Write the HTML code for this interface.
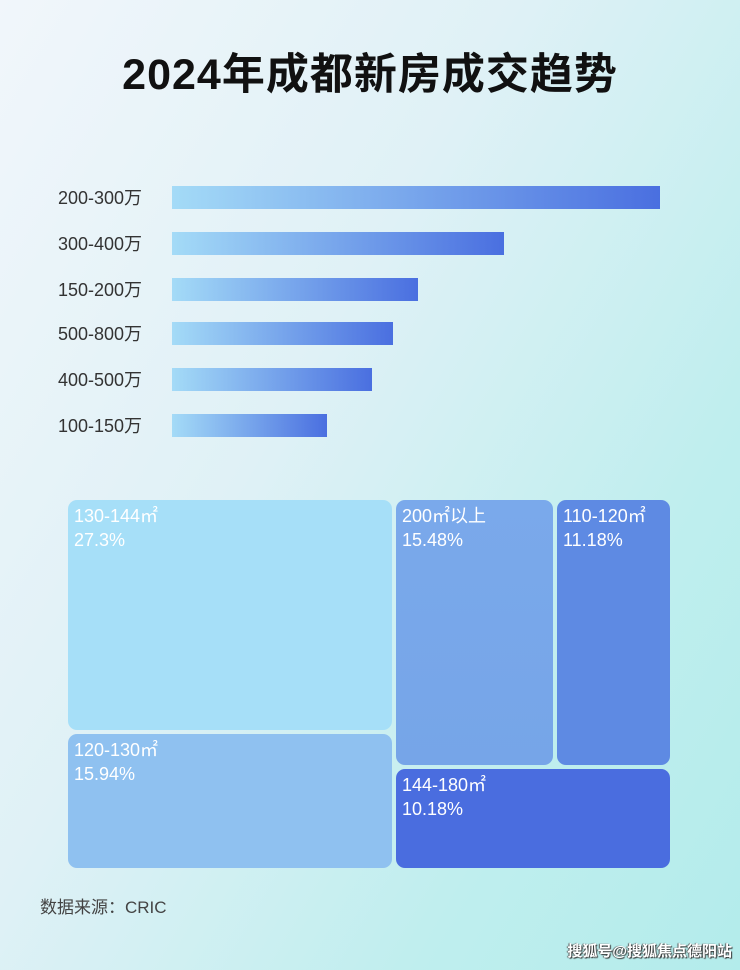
<!DOCTYPE html>
<html><head><meta charset="utf-8"><style>
body{margin:0;width:740px;height:970px;overflow:hidden;font-family:"Liberation Sans","Noto Sans CJK SC",sans-serif;
background:linear-gradient(120deg,#f1f6fb 0%,#dff1f6 40%,#bfeeee 75%,#b3eceb 100%);position:relative}
.t{position:absolute;left:0;width:740px;top:40px;text-align:center;font-size:43px;font-weight:bold;color:#111;letter-spacing:1px}
.l{position:absolute;left:58px;font-size:18px;color:#333;width:110px}
.b{position:absolute;left:172px;height:23px;background:linear-gradient(90deg,#a4dbf7,#4a6fe0)}
.r{position:absolute;border-radius:9px;color:#fff;font-size:18px;line-height:24px;padding:4px 6px;box-sizing:border-box}
.s{position:absolute;left:40px;top:893px;font-size:17px;color:#444}
.w{position:absolute;right:8px;top:940px;font-size:15px;color:#fff;font-weight:bold;text-shadow:1px 1px 1px #333,-1px 0 1px #555}
</style></head><body>
<div class="t">2024年成都新房成交趋势</div>
<div class="l" style="top:184px">200-300万</div><div class="b" style="top:186px;width:488px"></div>
<div class="l" style="top:230px">300-400万</div><div class="b" style="top:232px;width:332px"></div>
<div class="l" style="top:276px">150-200万</div><div class="b" style="top:278px;width:246px"></div>
<div class="l" style="top:320px">500-800万</div><div class="b" style="top:322px;width:221px"></div>
<div class="l" style="top:366px">400-500万</div><div class="b" style="top:368px;width:200px"></div>
<div class="l" style="top:412px">100-150万</div><div class="b" style="top:414px;width:155px"></div>
<div class="r" style="left:68px;top:500px;width:324px;height:230px;background:#a6dff8">130-144㎡<br>27.3%</div>
<div class="r" style="left:68px;top:734px;width:324px;height:134px;background:#8fc1f0">120-130㎡<br>15.94%</div>
<div class="r" style="left:396px;top:500px;width:157px;height:265px;background:linear-gradient(180deg,#7aa9eb,#76a5e8)">200㎡以上<br>15.48%</div>
<div class="r" style="left:557px;top:500px;width:113px;height:265px;background:#5e8ae3">110-120㎡<br>11.18%</div>
<div class="r" style="left:396px;top:769px;width:274px;height:99px;background:#4a6ddf">144-180㎡<br>10.18%</div>
<div class="s">数据来源：CRIC</div>
<div class="w">搜狐号@搜狐焦点德阳站</div>
</body></html>
